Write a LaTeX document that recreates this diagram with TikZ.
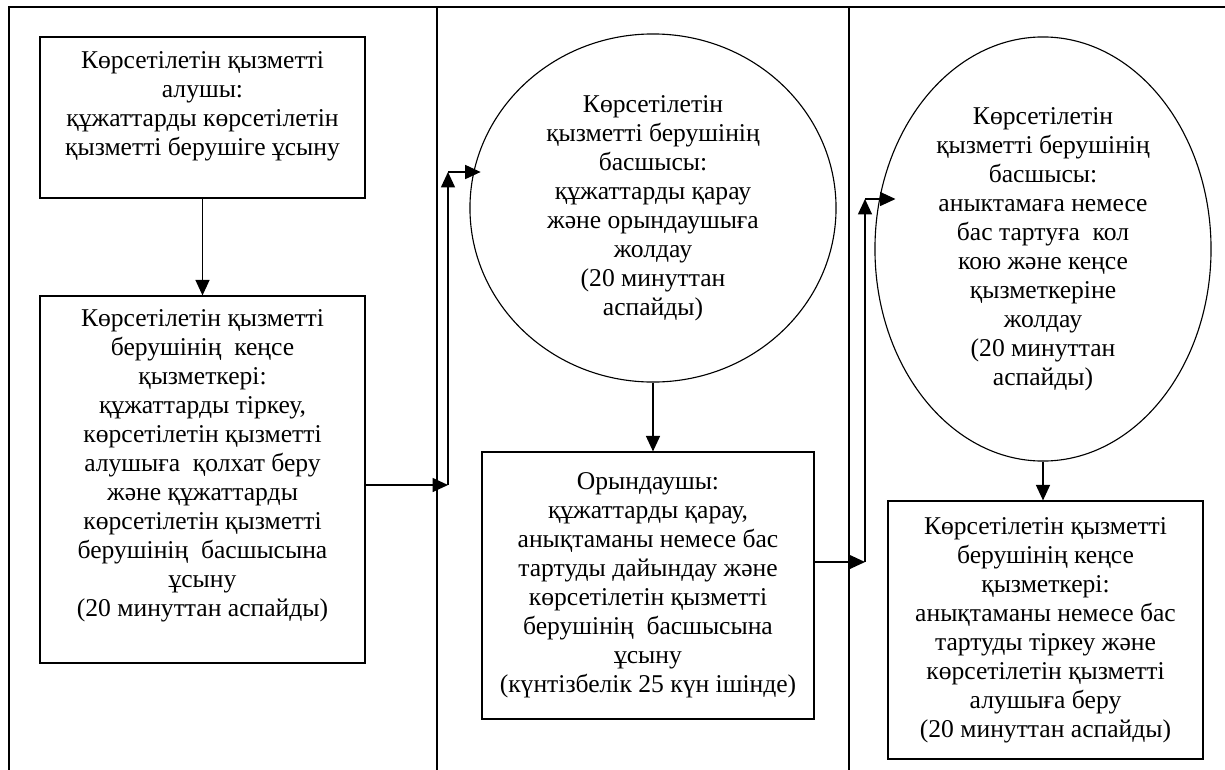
\documentclass[tikz,border=0pt]{standalone}
\usepackage{fontspec}
\setmainfont{Liberation Serif}
\usetikzlibrary{arrows.meta,shapes.geometric}

\begin{document}
\begin{tikzpicture}[x=0.025cm, y=-0.025cm,
  every node/.style={align=center, font=\fontsize{18.2}{20.6}\selectfont},
  stepbox/.style={shape=rectangle, draw=black, line width=0.8pt, inner sep=0pt},
  headoval/.style={shape=ellipse, draw=black, line width=0.8pt, inner sep=0pt},
  flow/.style={-{Triangle[length=11pt,width=10pt]}, line width=0.9pt, draw=black},
  frame/.style={line width=0.8pt, draw=black}]
\useasboundingbox (0,0) rectangle (1225,770);
% columns
\draw[frame] (9,770) -- (9,7) -- (1225,7);
\draw[frame] (437,7) -- (437,770);
\draw[frame] (849,7) -- (849,770);
% steps
\node[stepbox, minimum width=8.125cm, minimum height=4.025cm] (1) at (202.5,117.5) {Көрсетілетін қызметті\\алушы:\\құжаттарды көрсетілетін\\қызметті берушіге ұсыну\rule[-20pt]{0pt}{0pt}};
\node[stepbox, minimum width=8.125cm, minimum height=9.175cm] (2) at (202.5,479.5) {Көрсетілетін қызметті\\берушінің~ кеңсе\\қызметкері:\\құжаттарды тіркеу,\\көрсетілетін қызметті\\алушыға~ қолхат беру\\және құжаттарды\\көрсетілетін қызметті\\берушінің~ басшысына\\ұсыну\\(20 минуттан аспайды)\rule[-23pt]{0pt}{0pt}};
\node[headoval, minimum width=9.15cm, minimum height=8.7cm] (3) at (653,208) {Көрсетілетін\\қызметті берушінің\\басшысы:\\құжаттарды қарау\\және орындаушыға\\жолдау\\(20 минуттан\\аспайды)};
\node[stepbox, minimum width=8.3cm, minimum height=6.675cm] (4) at (648,585.5) {Орындаушы:\\құжаттарды қарау,\\анықтаманы немесе бас\\тартуды дайындау және\\көрсетілетін қызметті\\берушінің~ басшысына\\ұсыну\\(күнтізбелік 25 күн ішінде)};
\node[headoval, minimum width=8.4cm, minimum height=10.6cm] (5) at (1043,249) {Көрсетілетін\\қызметті берушінің\\басшысы:\\аныктамаға немесе\\бас тартуға~ кол\\кою және кеңсе\\қызметкеріне\\жолдау\\(20 минуттан\\аспайды)};
\node[stepbox, minimum width=7.875cm, minimum height=6.45cm] (6) at (1045.5,630) {Көрсетілетін қызметті\\берушінің кеңсе\\қызметкері:\\анықтаманы немесе бас\\тартуды тіркеу және\\көрсетілетін қызметті\\алушыға беру\\(20 минуттан аспайды)};
% bends
\coordinate (a) at (448,485);
\coordinate (b) at (448,172);
\coordinate (c) at (865,562);
\coordinate (d) at (865,199);
% arrows
\draw[flow] (1) -- (2);
\draw[flow] (2.east |- a) -- (a);
\draw[flow] (a) -- (b);
\draw[flow, shorten >=-8pt] (b) -- (3.west |- b);
\draw[flow] (3.south) -- (3.south |- 4.north);
\draw[flow] (4.east |- c) -- (c);
\draw[flow] (c) -- (d);
\draw[flow, shorten >=-15pt] (d) -- (5.west |- d);
\draw[flow] (5.south) -- (5.south |- 6.north);
\end{tikzpicture}
\end{document}
